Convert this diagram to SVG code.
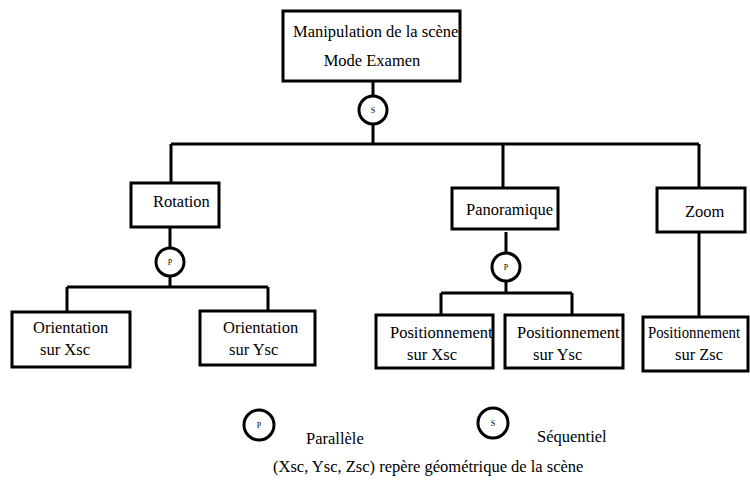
<svg xmlns="http://www.w3.org/2000/svg" width="750" height="494" viewBox="0 0 750 494">
<style>
.box{fill:#fff;stroke:#000;stroke-width:3}
.ln{fill:none;stroke:#000;stroke-width:3}
.circ{fill:#fff;stroke:#000;stroke-width:3}
.t{font-family:'Liberation Serif','Times New Roman',Times,serif;font-size:16.5px;fill:#000}
.sm{font-size:8px;text-anchor:middle}
</style>
<rect width="750" height="494" fill="#fff"/>
<g id="connectors">
<path class="ln" d="M373,81 V96 M373,124 V144 M171,144 H699 M171,144 V183 M503,144 V188 M699,144 V188"/>
<path class="ln" d="M170,227 V248 M170,276 V287 M67,287 H268 M67,287 V312 M268,287 V311"/>
<path class="ln" d="M506,232 V253 M506,281 V293 M441,293 H572 M441,293 V315 M572,293 V315"/>
<path class="ln" d="M699,232 V317"/>
</g>
<g class="t" font-family="Liberation Serif, serif">
<g id="root">
<rect class="box" x="283" y="11" width="177" height="70"/>
<text x="293" y="37">Manipulation de la scène</text>
<text x="372" y="66" text-anchor="middle">Mode Examen</text>
</g>
<g id="seq1">
<circle class="circ" cx="373" cy="110" r="14"/>
<text class="sm" x="373" y="113">S</text>
</g>
<g id="rotation">
<rect class="box" x="131" y="183" width="88" height="44"/>
<text x="153" y="207">Rotation</text>
</g>
<g id="par1">
<circle class="circ" cx="170" cy="262" r="14"/>
<text class="sm" x="170" y="265">P</text>
</g>
<g id="panoramique">
<rect class="box" x="452" y="188" width="106" height="41"/>
<text x="466" y="215">Panoramique</text>
</g>
<g id="par2">
<circle class="circ" cx="506" cy="267" r="14"/>
<text class="sm" x="506" y="270">P</text>
</g>
<g id="zoom">
<rect class="box" x="657" y="188" width="88" height="44"/>
<text x="685" y="217">Zoom</text>
</g>
<g id="orientX">
<rect class="box" x="12" y="312" width="118" height="55"/>
<text x="33" y="333">Orientation</text>
<text x="40" y="355">sur Xsc</text>
</g>
<g id="orientY">
<rect class="box" x="200" y="311" width="115" height="54"/>
<text x="223" y="333">Orientation</text>
<text x="229" y="355">sur Ysc</text>
</g>
<g id="posX">
<rect class="box" x="376" y="315" width="117" height="53"/>
<text x="390" y="338">Positionnement</text>
<text x="407" y="360">sur Xsc</text>
</g>
<g id="posY">
<rect class="box" x="505" y="315" width="118" height="53"/>
<text x="517" y="338">Positionnement</text>
<text x="533" y="360">sur Ysc</text>
</g>
<g id="posZ">
<rect class="box" x="643" y="317" width="105" height="54"/>
<text x="648" y="338" textLength="92" lengthAdjust="spacingAndGlyphs">Positionnement</text>
<text x="675" y="360">sur Zsc</text>
</g>
<g id="legend">
<circle class="circ" cx="259" cy="425" r="15"/>
<text class="sm" x="259" y="428">P</text>
<text x="306" y="444">Parallèle</text>
<circle class="circ" cx="493" cy="423" r="15"/>
<text class="sm" x="493" y="426">S</text>
<text x="537" y="442">Séquentiel</text>
<text x="273" y="472">(Xsc, Ysc, Zsc) repère géométrique de la scène</text>
</g>
</g>
</svg>
